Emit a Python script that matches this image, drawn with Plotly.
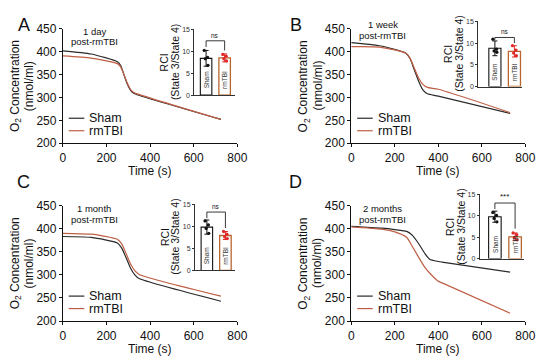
import plotly.graph_objects as go

W, H = 550, 363

# ------------------------- data -------------------------
panel_letters = ["A", "B", "C", "D"]
timepoint_text = ["1 day", "1 week", "1 month", "2 months"]
subtitle_text = "post-rmTBI"
group_names = ["Sham", "rmTBI"]
significance = ["ns", "ns", "ns", "***"]

x_ticks = [0, 200, 400, 600, 800]
y_ticks = [200, 250, 300, 350, 400, 450]
rci_ticks = [0, 5, 10, 15]

time_A = [0, 130, 250, 265, 280, 295, 310, 325, 340, 725]
sham_A = [402, 395, 378, 370, 350, 330, 316, 309, 306, 252]
rmtbi_A = [391, 386, 374, 367, 350, 332, 318, 311, 308, 252]

time_B = [0, 130, 250, 270, 290, 310, 330, 350, 400, 730]
sham_B = [420, 413, 397, 385, 360, 335, 316, 308, 303, 265]
rmtbi_B = [411, 410, 397, 386, 364, 342, 328, 322, 318, 267]

time_C = [0, 130, 250, 270, 290, 310, 330, 350, 725]
sham_C = [383, 381, 369, 358, 337, 315, 300, 292, 243]
rmtbi_C = [390, 388, 377, 367, 346, 324, 309, 301, 254]

time_D = [0, 140, 200, 255, 280, 306, 340, 360, 400, 425, 730]
sham_D = [405, 401, 398, 394, 386, 370, 345, 334, 329, 327, 306]
rmtbi_D = [404, 399, 393, 381, 362, 341, 315, 304, 286, 281, 217]

rci_mean_sham = [8.4, 8.8, 9.8, 9.8]
rci_err_sham = [1.8, 1.7, 1.6, 1.3]
rci_mean_rmtbi = [8.5, 8.1, 7.9, 5.1]
rci_err_rmtbi = [0.9, 1.3, 0.9, 0.9]

rci_pts_sham_A = [10.2, 8.6, 8.3, 6.8]
rci_pts_rmtbi_A = [9.3, 8.9, 8.3, 7.8]
rci_pts_sham_B = [10.9, 8.6, 8.2, 7.9]
rci_pts_rmtbi_B = [9.4, 8.4, 7.7, 7.1]
rci_pts_sham_C = [11.2, 10.3, 9.5, 8.4]
rci_pts_rmtbi_C = [8.8, 8.2, 7.6, 7.2]
rci_pts_sham_D = [10.8, 10.1, 9.4, 8.6]
rci_pts_rmtbi_D = [6.0, 5.6, 4.9, 4.4]

times = [time_A, time_B, time_C, time_D]
shams = [sham_A, sham_B, sham_C, sham_D]
rmtbis = [rmtbi_A, rmtbi_B, rmtbi_C, rmtbi_D]
pts_sham = [rci_pts_sham_A, rci_pts_sham_B, rci_pts_sham_C, rci_pts_sham_D]
pts_rmtbi = [rci_pts_rmtbi_A, rci_pts_rmtbi_B, rci_pts_rmtbi_C, rci_pts_rmtbi_D]

# ------------------------- style / layout -------------------------
FONT = "Liberation Sans, Arial, sans-serif"
SHAM_COL = "#2a2a2a"
RM_COL = "#bf5f45"
RM_BAR = "#b8652e"
RM_DOT = "#e02828"

# main plot geometry in px: x0, x1, ytop, ybot
main_geo = [
    (61.3, 240.0, 22.7, 141.7),
    (356.7, 535.0, 22.7, 141.7),
    (61.3, 240.0, 206.5, 326.7),
    (356.7, 535.0, 206.5, 326.7),
]
# inset geometry: axis_x, center0, center1, x_end, ytop(15), ybot(0)
inset_geo = [
    (196.0, 208.0, 227.0, 238.0, 23.3, 91.7),
    (486.7, 503.8, 523.8, 532.0, 15.0, 82.7),
    (196.7, 208.8, 227.8, 237.3, 205.0, 274.0),
    (488.3, 503.8, 524.5, 534.0, 195.0, 261.7),
]
# text lines y-positions (px)
title_y = [(25, 35.5), (18.5, 30), (210, 221.5), (210, 221.5)]
letter_pos = [(21, 19), (300, 19), (21, 182), (300, 182)]
# significance bracket: top, left leg bottom, right leg bottom (data units)
bracket = [(12.4, 11.0, 10.2), (11.3, 10.8, 10.0), (13.2, 11.8, 9.6), (13.0, 11.6, 7.0)]
jitter = [-0.1, 0.08, -0.04, 0.1]


def px(x):
    return x / W


def py(y):
    return 1 - y / H


def txt(text, x, y, size, xanchor="center", angle=0, color="#111", xref="paper", yref="paper",
        yanchor="middle"):
    return dict(text=text, x=x, y=y, xref=xref, yref=yref, xanchor=xanchor, yanchor=yanchor,
                showarrow=False, textangle=angle,
                font=dict(size=size, family=FONT, color=color))


fig = go.Figure()
layout = dict(
    width=W, height=H, autosize=False,
    margin=dict(l=0, r=0, t=0, b=0, pad=0),
    paper_bgcolor="white", plot_bgcolor="white",
    showlegend=False, barmode="overlay",
    font=dict(family=FONT, color="#111"),
)
annotations = []
shapes = []

for i in range(4):
    mx = 2 * i + 1
    ix = 2 * i + 2
    mxs = "x" if mx == 1 else f"x{mx}"
    mys = "y" if mx == 1 else f"y{mx}"
    ixs = f"x{ix}"
    iys = f"y{ix}"
    x0, x1, yt, yb = main_geo[i]

    fig.add_trace(go.Scatter(x=times[i], y=shams[i], mode="lines", name=group_names[0],
                             line=dict(color=SHAM_COL, width=1.2, shape="spline", smoothing=0.6),
                             xaxis=mxs, yaxis=mys))
    fig.add_trace(go.Scatter(x=times[i], y=rmtbis[i], mode="lines", name=group_names[1],
                             line=dict(color=RM_COL, width=1.2, shape="spline", smoothing=0.6),
                             xaxis=mxs, yaxis=mys))

    axcommon = dict(showline=True, linecolor="#111", linewidth=1, ticks="outside",
                    ticklen=3, tickwidth=1, tickcolor="#111", showgrid=False, zeroline=False,
                    tickfont=dict(size=12, family=FONT, color="#111"))
    layout["xaxis" if mx == 1 else f"xaxis{mx}"] = dict(
        domain=[px(x0), px(x1)], range=[0, 800], tickvals=x_ticks,
        anchor=mys, **axcommon)
    layout["yaxis" if mx == 1 else f"yaxis{mx}"] = dict(
        domain=[py(yb), py(yt)], range=[200, 450], tickvals=y_ticks,
        anchor=mxs, **axcommon)

    ymid = (yt + yb) / 2
    annotations.append(txt("Time (s)", px((x0 + x1) / 2), py(yb + 28.5), 12))
    annotations.append(txt("O<sub>2</sub> Concentration", px(x0 - 48), py(ymid), 12, angle=-90))
    annotations.append(txt("(nmol/ml)", px(x0 - 34.5), py(ymid), 12, angle=-90))
    lx, ly = letter_pos[i]
    annotations.append(txt(panel_letters[i], px(lx), py(ly), 18))
    ty1, ty2 = title_y[i]
    annotations.append(txt(timepoint_text[i], px(x0 + 32), py(ty1), 9.5))
    annotations.append(txt(subtitle_text, px(x0 + 32), py(ty2), 9.5))
    # legend
    for k, (name, col) in enumerate(zip(group_names, [SHAM_COL, RM_COL])):
        ly_ = yb - 26 + 13 * k
        shapes.append(dict(type="line", xref="paper", yref="paper",
                           x0=px(x0 + 6), x1=px(x0 + 22), y0=py(ly_), y1=py(ly_),
                           line=dict(color=col, width=1.2)))
        annotations.append(txt(name, px(x0 + 25), py(ly_), 12.5, xanchor="left"))

    # ---------- inset ----------
    ax_x, c0, c1, xe, it, ib = inset_geo[i]
    unit = c1 - c0
    r0 = -(c0 - ax_x) / unit
    r1 = (xe - c0) / unit
    fig.add_trace(go.Bar(x=[0], y=[rci_mean_sham[i]], width=0.62,
                         marker=dict(color="white", line=dict(color="#111", width=1.1)),
                         error_y=dict(type="data", array=[rci_err_sham[i]], color="#111",
                                      thickness=1, width=2.5),
                         xaxis=ixs, yaxis=iys))
    fig.add_trace(go.Bar(x=[1], y=[rci_mean_rmtbi[i]], width=0.62,
                         marker=dict(color="white", line=dict(color=RM_BAR, width=1.3)),
                         error_y=dict(type="data", array=[rci_err_rmtbi[i]], color=RM_DOT,
                                      thickness=1, width=2.5),
                         xaxis=ixs, yaxis=iys))
    fig.add_trace(go.Scatter(x=[0 + j for j in jitter], y=pts_sham[i], mode="markers",
                             marker=dict(color="#111", size=3.3), xaxis=ixs, yaxis=iys))
    fig.add_trace(go.Scatter(x=[1 + j for j in jitter], y=pts_rmtbi[i], mode="markers",
                             marker=dict(color=RM_DOT, size=3.3), xaxis=ixs, yaxis=iys))

    icommon = dict(showline=True, linecolor="#333", linewidth=1,
                   showgrid=False, zeroline=False,
                   tickfont=dict(size=7, family=FONT, color="#333"))
    layout[f"xaxis{ix}"] = dict(domain=[px(ax_x), px(xe)], range=[r0, r1], ticks="",
                                showticklabels=False, anchor=iys, **icommon)
    layout[f"yaxis{ix}"] = dict(domain=[py(ib), py(it)], range=[0, 15], tickvals=rci_ticks,
                                ticks="outside", ticklen=2, tickwidth=1, tickcolor="#333",
                                anchor=ixs, **icommon)

    imid = (it + ib) / 2
    annotations.append(txt("RCI", px(ax_x - 31), py(imid), 10.5, angle=-90))
    annotations.append(txt("(State 3/State 4)", px(ax_x - 20), py(imid), 10.5, angle=-90))
    for k, name in enumerate(group_names):
        annotations.append(txt(name, k, 3.4, 6.5, angle=-90, color="#333", xref=ixs, yref=iys))
    bt, bl, br = bracket[i]
    shapes.append(dict(type="path", xref=ixs, yref=iys,
                       path=f"M 0 {bl} L 0 {bt} L 1 {bt} L 1 {br}",
                       line=dict(color="#222", width=0.9)))
    annotations.append(txt(significance[i], 0.5, bt, 6.5 if significance[i] == "ns" else 8,
                           xref=ixs, yref=iys, yanchor="bottom"))

layout["annotations"] = annotations
layout["shapes"] = shapes
fig.update_layout(**layout)
fig.write_html("out.html", config={"displayModeBar": False},
               post_script="document.body.style.margin='0';document.body.style.padding='0';"
                           "document.documentElement.style.overflow='hidden';")
